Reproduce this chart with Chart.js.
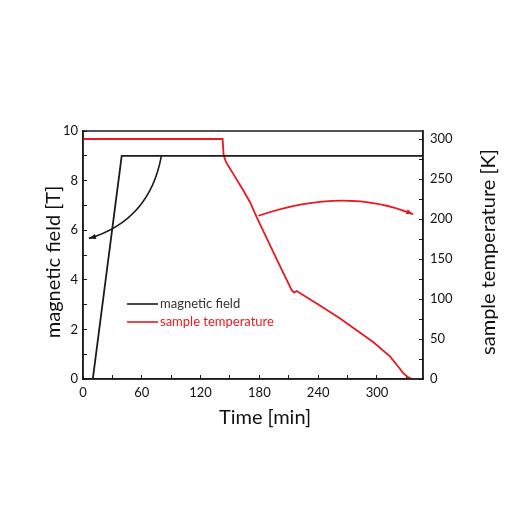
<!DOCTYPE html>
<html>
<head>
<meta charset="utf-8">
<script src="https://cdn.jsdelivr.net/npm/chart.js@4.4.1/dist/chart.umd.min.js"></script>
<style>
  html, body { margin: 0; padding: 0; background: #fff; }
  #wrap { width: 510px; height: 510px; }
</style>
</head>
<body>
<div id="wrap"><canvas id="chart"></canvas></div>
<script>
// magnetic field ramp [min, T]
const fieldTime  = [10, 39.5, 347];
const fieldValue = [0, 9, 9];

// sample temperature [min, K]
const tempTime  = [0, 142.5, 143.5, 146, 153, 163.5, 170.5, 177, 198, 213, 215.5, 218, 239, 262, 296.5, 313.5, 322, 327, 332, 336, 347];
const tempValue = [300, 300, 280, 271, 257, 236, 221, 203, 149, 111, 108, 110, 94, 76, 46, 28, 15, 7, 2, 0, 0];

// annotation arrows: [start, control, end] in data units
const fieldArrow = [[80, 9], [68, 6.4], [6, 5.67]];
const tempArrow  = [[179, 204], [267, 241], [337, 206]];

const seriesNames = ['magnetic field', 'sample temperature'];
const black = '#1b1b1b';
const red = '#e8191f';
const FONT = 'Lato, "Noto Sans", sans-serif';

const toXY = (xs, ys) => xs.map((x, i) => ({x: x, y: ys[i]}));

const frameAndNotes = {
  id: 'frameAndNotes',
  afterDatasetsDraw(chart) {
    const {ctx, chartArea: a, scales} = chart;
    ctx.save();
    ctx.strokeStyle = black;
    ctx.lineWidth = 1.5;
    ctx.strokeRect(a.left, a.top, a.right - a.left, a.bottom - a.top);

    function arrow(pts, yScale, color) {
      const p = pts.map(q => [scales.x.getPixelForValue(q[0]), yScale.getPixelForValue(q[1])]);
      ctx.strokeStyle = color;
      ctx.fillStyle = color;
      ctx.lineWidth = 1.6;
      ctx.beginPath();
      ctx.moveTo(p[0][0], p[0][1]);
      ctx.quadraticCurveTo(p[1][0], p[1][1], p[2][0], p[2][1]);
      ctx.stroke();
      const ang = Math.atan2(p[2][1] - p[1][1], p[2][0] - p[1][0]);
      const len = 7, w = 2.6;
      ctx.beginPath();
      ctx.moveTo(p[2][0], p[2][1]);
      ctx.lineTo(p[2][0] - len * Math.cos(ang) + w * Math.sin(ang), p[2][1] - len * Math.sin(ang) - w * Math.cos(ang));
      ctx.lineTo(p[2][0] - len * Math.cos(ang) - w * Math.sin(ang), p[2][1] - len * Math.sin(ang) + w * Math.cos(ang));
      ctx.closePath();
      ctx.fill();
    }
    arrow(fieldArrow, scales.y, black);
    arrow(tempArrow, scales.y2, red);

    // legend inside the plot
    const colors = [black, red];
    ctx.font = '13px ' + FONT;
    ctx.textBaseline = 'middle';
    ctx.textAlign = 'left';
    seriesNames.forEach((name, i) => {
      const y = 304 + i * 18;
      ctx.strokeStyle = colors[i];
      ctx.lineWidth = 1.6;
      ctx.beginPath();
      ctx.moveTo(a.left + 44, y);
      ctx.lineTo(a.left + 75, y);
      ctx.stroke();
      ctx.fillStyle = colors[i] === black ? '#333' : red;
      ctx.fillText(name, a.left + 77, y);
    });

    // axis titles
    ctx.fillStyle = '#111';
    ctx.textAlign = 'center';
    ctx.font = '20px ' + FONT;
    ctx.fillText('Time [min]', 265, 418);
    ctx.save();
    ctx.translate(54, 262);
    ctx.rotate(-Math.PI / 2);
    ctx.fillText('magnetic field [T]', 0, 0);
    ctx.restore();
    ctx.save();
    ctx.translate(489, 252);
    ctx.rotate(-Math.PI / 2);
    ctx.fillText('sample temperature [K]', 0, 0);
    ctx.restore();
    ctx.restore();
  }
};

const tickFont = {family: FONT, size: 13};

new Chart(document.getElementById('chart'), {
  type: 'line',
  data: {
    datasets: [{
      label: seriesNames[0],
      data: toXY(fieldTime, fieldValue),
      borderColor: black,
      borderWidth: 1.8,
      pointRadius: 0,
      tension: 0,
      yAxisID: 'y'
    }, {
      label: seriesNames[1],
      data: toXY(tempTime, tempValue),
      borderColor: red,
      borderWidth: 1.8,
      pointRadius: 0,
      tension: 0,
      yAxisID: 'y2'
    }]
  },
  options: {
    responsive: true,
    maintainAspectRatio: false,
    animation: false,
    layout: {padding: {top: 131, left: 0, right: 0, bottom: 0}},
    plugins: {
      legend: {display: false},
      tooltip: {enabled: false}
    },
    scales: {
      x: {
        type: 'linear',
        min: 0,
        max: 347,
        afterFit: s => { s.height = 131; },
        border: {color: black, width: 1.5},
        grid: {drawOnChartArea: false, tickLength: -4, color: black},
        ticks: {
          stepSize: 30, includeBounds: false, autoSkip: false, maxRotation: 0, padding: 10,
          color: '#111', font: tickFont,
          callback: v => (v % 60 === 0 ? v : '')
        }
      },
      y: {
        position: 'left',
        min: 0,
        max: 10,
        afterFit: s => { s.width = 83; },
        border: {color: black, width: 1.5},
        grid: {drawOnChartArea: false, tickLength: -4, color: black},
        ticks: {
          stepSize: 1, includeBounds: false, autoSkip: false, padding: 9,
          color: '#111', font: tickFont,
          callback: v => (v % 2 === 0 ? v : '')
        }
      },
      y2: {
        position: 'right',
        min: 0,
        max: 310,
        afterFit: s => { s.width = 87; },
        border: {color: black, width: 1.5},
        grid: {drawOnChartArea: false, tickLength: -4, color: black},
        ticks: {
          stepSize: 25, includeBounds: false, autoSkip: false, padding: 11,
          color: '#111', font: tickFont,
          callback: v => (v % 50 === 0 ? v : '')
        }
      }
    }
  },
  plugins: [frameAndNotes]
});
</script>
</body>
</html>
